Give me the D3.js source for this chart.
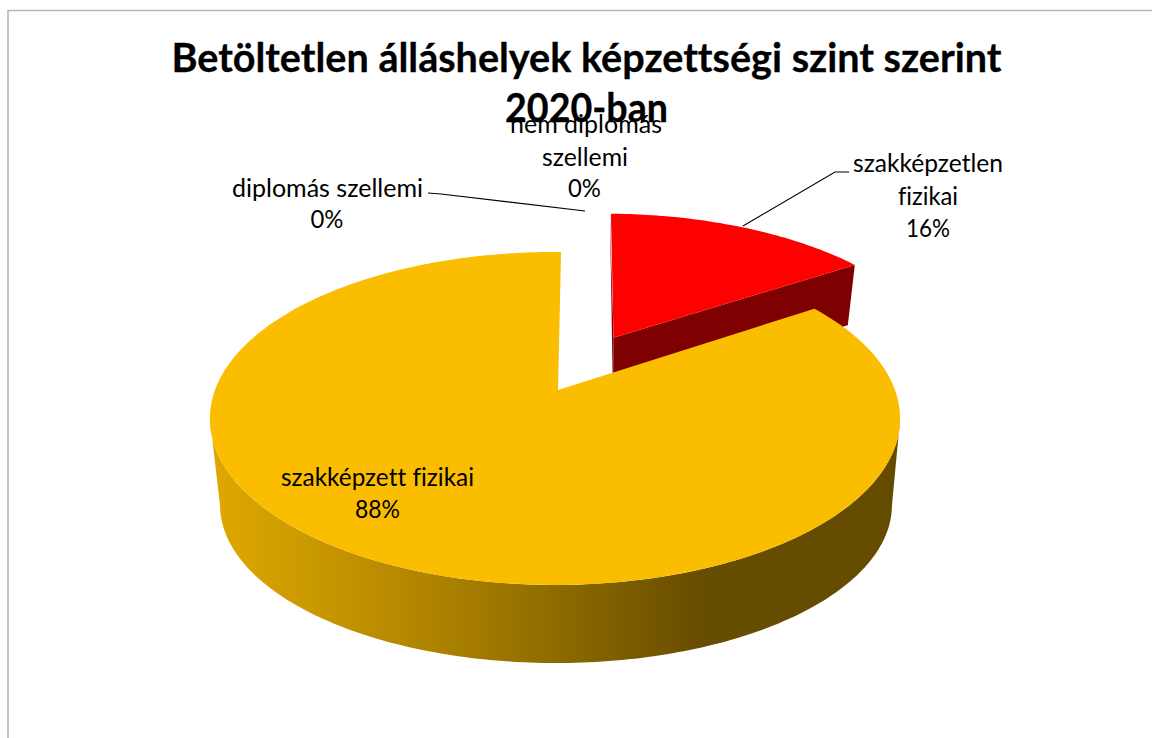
<!DOCTYPE html>
<html><head><meta charset="utf-8">
<style>html,body{margin:0;padding:0;background:#fff;overflow:hidden}svg{display:block}text{font-family:Lato,"Open Sans",sans-serif;fill:#000;font-variant-ligatures:none}</style>
<script src="https://cdn.jsdelivr.net/npm/d3@7/dist/d3.min.js"></script>
</head><body><svg id="c" width="1152" height="738"></svg>
<script>
// DATA
const categories = ["szakképzetlen fizikai","szakképzett fizikai","diplomás szellemi","nem diplomás szellemi"];
const values = [16, 88, 0, 0];
const percentLabels = ["16%","88%","0%","0%"];
const titleLines = ["Betöltetlen álláshelyek képzettségi szint szerint","2020-ban"];
const explosion = [0.39, 0, 0, 0];
const topColors = ["#fe0000","#fbbd00"];

// LAYOUT
const svg = d3.select("#c");
const W = 1152, H = 738;
const rot = 1.2*Math.PI/180;
const persp = 0.171;
const topDisc = {cx:555, cy:390, a:340, b:161.6};
const bottomDisc = {cx:556, cy:478, a:331, b:153.4};
const redTopDisc = {cx:553, cy:390, a:340, b:161.6};
const redBottomDisc = {cx:554, cy:478, a:331, b:153.4};
const redLift = -34;
const yellowApexNudge = 3;

function project(d, x, y, lift){
  const w = 1 + persp*y;
  return [d.cx + d.a*x/w, d.cy - d.b*y/w + (lift||0)];
}
const pie = d3.pie().sort(null).value(v=>v).startAngle(rot).endAngle(rot+2*Math.PI);
const arcs = pie(values);
const line = d3.line();

function offsetOf(arc, i){
  const mid = (arc.startAngle+arc.endAngle)/2;
  return [explosion[i]*Math.sin(mid), explosion[i]*Math.cos(mid)];
}
function rim(disc, arc, i, t0, t1, lift){
  const [ox,oy] = offsetOf(arc,i);
  const n = Math.max(2, Math.ceil(Math.abs(t1-t0)*60));
  return d3.range(n+1).map(k=>{
    const t = t0+(t1-t0)*k/n;
    return project(disc, ox+Math.sin(t), oy+Math.cos(t), lift);
  });
}

// gradient on the yellow wall
const defs = svg.append("defs");
const xs = d3.scaleLinear().domain([0,W]).range([0,100]);
const grad = defs.append("linearGradient").attr("id","wall")
  .attr("gradientUnits","userSpaceOnUse").attr("x1",0).attr("x2",W).attr("y1",0).attr("y2",0);
[[210,"#dfa900"],[360,"#c09000"],[470,"#a57c00"],[560,"#8c6a00"],[640,"#775900"],[700,"#674d00"],[900,"#654b00"]]
 .forEach(s=>grad.append("stop").attr("offset",xs(s[0])+"%").attr("stop-color",s[1]));

// frame
svg.append("path").attr("d",line([[W+5,10.5],[8,10.5],[8,H+5]])).attr("fill","none").attr("stroke","#b8b8b8").attr("stroke-width",1.6);

// red slice
const red = arcs[0], yel = arcs[1];
const [rx,ry] = offsetOf(red,0);
const rApex = project(redTopDisc,rx,ry);
const rApexB = project(redBottomDisc,rx,ry,redLift);
const rTop = rim(redTopDisc,red,0,red.startAngle,red.endAngle);
const rEndB = rim(redBottomDisc,red,0,red.endAngle,red.endAngle,redLift)[0];
const rEnd = rTop[rTop.length-1];
svg.append("path").attr("d",line([rApex,[rTop[0][0]-1,rTop[0][1]],[rApexB[0],rApexB[1]]])+"Z").attr("fill","#7f0000");
svg.append("path").attr("d",line([rApex,rEnd,rEndB,rApexB])+"Z").attr("fill","#7f0000");
svg.append("path").attr("d",line([rApex,...rTop])+"Z").attr("fill",topColors[0]);

// yellow wall and top
const a0 = 100*Math.PI/180, a1 = 260*Math.PI/180;
const wallT = rim(topDisc,yel,1,a0,a1);
const wallB = rim(bottomDisc,yel,1,a1,a0);
svg.append("path").attr("d",line([...wallT,...wallB])+"Z").attr("fill","url(#wall)");
const yApex = [topDisc.cx+yellowApexNudge, topDisc.cy];
svg.append("path").attr("d",line([yApex,...rim(topDisc,yel,1,yel.startAngle,yel.endAngle)])+"Z").attr("fill",topColors[1]);

// leader lines
const leaders = [
  [[428,193],[441,194],[585,211]],
  [[849,172],[835,172],[743,226]]
];
leaders.forEach(l=>svg.append("path").attr("d",line(l)).attr("fill","none").attr("stroke","#000").attr("stroke-width",1.1));

// text: string, centre x, baseline y, size, target width
function put(str,x,y,size,len,bold){
  const t = svg.append("text").text(str).attr("x",x).attr("y",y).attr("text-anchor","middle")
    .attr("font-size",size).attr("font-weight",bold?700:400)
    .attr("textLength",len).attr("lengthAdjust","spacingAndGlyphs");
  if(bold) t.attr("stroke","#000").attr("stroke-width",0.3);
}
put(titleLines[0],586.5,72,40,830,true);
put(titleLines[1],586.5,122,40,163,true);
const lblSize = 25;
put("nem diplomás",586,133,lblSize,152);
put("szellemi",585,166,lblSize,86);
put(percentLabels[3],584.5,197,lblSize,33);
put(categories[2],327.5,197,lblSize,191);
put(percentLabels[2],327,228,lblSize,33);
put("szakképzetlen",928,172,lblSize,150);
put("fizikai",928,205,lblSize,60);
put(percentLabels[0],928,237,lblSize,44);
put(categories[1],377.5,486,lblSize,193);
put(percentLabels[1],377.5,518,lblSize,45);
</script></body></html>
